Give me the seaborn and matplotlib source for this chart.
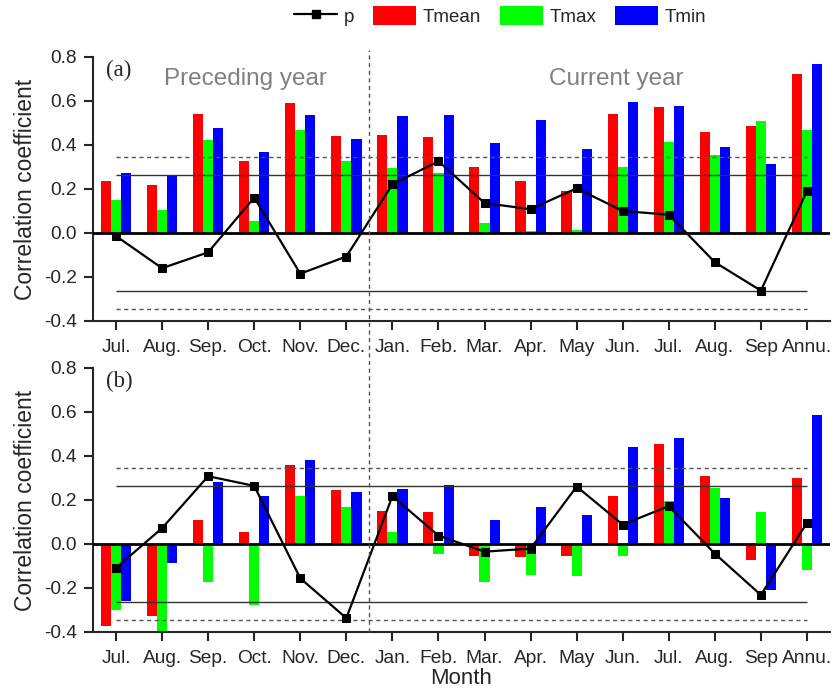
import numpy as np
import pandas as pd
import seaborn as sns
import matplotlib.pyplot as plt
import matplotlib.transforms as mtransforms
from matplotlib.lines import Line2D
from matplotlib.patches import Patch

months = ["Jul.", "Aug.", "Sep.", "Oct.", "Nov.", "Dec.", "Jan.", "Feb.",
          "Mar.", "Apr.", "May", "Jun.", "Jul.", "Aug.", "Sep", "Annu."]
series = ["Tmean", "Tmax", "Tmin"]
colors = ["#ff0000", "#00ff00", "#0000ff"]

# panel (a)
a_tmean = [0.236, 0.217, 0.541, 0.327, 0.590, 0.443, 0.447, 0.434,
           0.299, 0.235, 0.190, 0.540, 0.574, 0.461, 0.486, 0.724]
a_tmax = [0.149, 0.106, 0.421, 0.053, 0.468, 0.326, 0.297, 0.274,
          0.046, 0.008, 0.015, 0.300, 0.412, 0.356, 0.511, 0.467]
a_tmin = [0.274, 0.262, 0.479, 0.367, 0.536, 0.427, 0.532, 0.536,
          0.411, 0.515, 0.380, 0.594, 0.576, 0.392, 0.312, 0.768]
a_p = [-0.014, -0.160, -0.088, 0.161, -0.185, -0.107, 0.221, 0.326,
       0.136, 0.108, 0.203, 0.100, 0.083, -0.133, -0.262, 0.191]

# panel (b)
b_tmean = [-0.372, -0.328, 0.109, 0.053, 0.358, 0.245, 0.149, 0.144,
           -0.056, -0.059, -0.056, 0.216, 0.453, 0.308, -0.071, 0.299]
b_tmax = [-0.299, -0.400, -0.173, -0.279, 0.219, 0.170, 0.056, -0.044,
          -0.174, -0.143, -0.146, -0.056, 0.194, 0.254, 0.144, -0.120]
b_tmin = [-0.259, -0.088, 0.282, 0.217, 0.381, 0.234, 0.248, 0.267,
          0.108, 0.169, 0.132, 0.440, 0.480, 0.211, -0.208, 0.585]
b_p = [-0.109, 0.072, 0.308, 0.264, -0.156, -0.337, 0.217, 0.038,
       -0.035, -0.021, 0.261, 0.088, 0.172, -0.044, -0.232, 0.096]

sig_05 = 0.265
sig_01 = 0.345

sns.set_style("ticks")
plt.rcParams["font.family"] = ["Liberation Sans", "DejaVu Sans"]

fig = plt.figure(figsize=(8.34, 6.99), dpi=100)
ax_a = fig.add_axes([0.1115, 0.5408, 0.8837, 0.3777])
ax_b = fig.add_axes([0.1115, 0.0959, 0.8837, 0.3777])

pos = np.arange(len(months))


def draw_panel(ax, tmean, tmax, tmin, p, tag):
    df = pd.DataFrame({
        "pos": np.tile(pos, 3),
        "series": np.repeat(series, len(months)),
        "value": np.concatenate([tmean, tmax, tmin]),
    })
    sns.barplot(data=df, x="pos", y="value", hue="series", hue_order=series,
                palette=colors, saturation=1, width=0.66, gap=0,
                linewidth=0, legend=False, ax=ax)
    ax.axhline(0, color="black", lw=2, zorder=3)
    ax.hlines([sig_05, -sig_05], 0, 15, colors="#333333", lw=1, zorder=3)
    ax.hlines([sig_01, -sig_01], 0, 15, colors="#555555", lw=1,
              linestyles=(0, (3, 2.5)), zorder=3)
    sns.lineplot(x=pos, y=p, color="black", marker="s", markersize=6,
                 markeredgecolor="black", lw=1.6, ax=ax, zorder=4)
    ax.set_xlim(-0.5, 15.5)
    ax.set_ylim(-0.4, 0.8)
    ax.set_yticks([-0.4, -0.2, 0.0, 0.2, 0.4, 0.6, 0.8])
    ax.set_yticklabels(["-0.4", "-0.2", "0.0", "0.2", "0.4", "0.6", "0.8"])
    ax.set_xticks(pos)
    ax.set_xticklabels(months)
    ax.tick_params(labelsize=13.8, width=1.5, length=6.5, direction="out")
    ax.tick_params(axis="y", pad=5)
    ax.tick_params(axis="x", pad=6.5)
    ax.set_ylabel("Correlation coefficient", fontsize=16.5, labelpad=5)
    ax.set_xlabel("")
    for side in ["top", "right"]:
        ax.spines[side].set_visible(False)
    for side in ["left", "bottom"]:
        ax.spines[side].set_linewidth(1.5)
    ax.text(0.017, 0.99, tag, transform=ax.transAxes, ha="left", va="top",
            fontsize=16.5, family=["Liberation Serif", "DejaVu Serif"])


draw_panel(ax_a, a_tmean, a_tmax, a_tmin, a_p, "(a)")
draw_panel(ax_b, b_tmean, b_tmax, b_tmin, b_p, "(b)")

ax_a.text(2.8, 0.70, "Preceding year", ha="center", va="center",
          fontsize=17.5, color="#808080")
ax_a.text(10.85, 0.70, "Current year", ha="center", va="center",
          fontsize=17.5, color="#808080")
ax_b.set_xlabel("Month", fontsize=16, labelpad=1)

# dashed divider between preceding and current year across both panels
trans = mtransforms.blended_transform_factory(ax_a.transData, fig.transFigure)
fig.add_artist(Line2D([5.5, 5.5], [0.0959, 0.928], transform=trans,
                      color="#555555", lw=1, ls=(0, (3, 2.5))))

handles = [Line2D([], [], color="black", marker="s", markersize=6, lw=1.6)]
handles += [Patch(facecolor=c, edgecolor="none") for c in colors]
fig.legend(handles, ["p"] + series, loc="center", ncol=4,
           bbox_to_anchor=(0.600, 0.977), frameon=False, fontsize=13.5,
           handlelength=2.3, handleheight=1.2, columnspacing=1.0,
           handletextpad=0.35)

fig.savefig("out.png", dpi=100)
plt.close(fig)
